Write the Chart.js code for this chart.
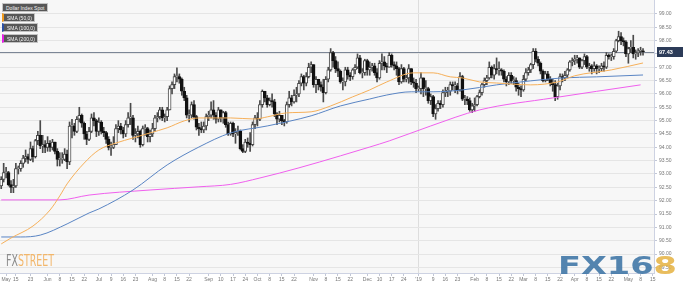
<!DOCTYPE html>
<html>
<head>
<meta charset="utf-8">
<title>Dollar Index Spot</title>
<script src="https://cdn.jsdelivr.net/npm/chart.js@4.4.1/dist/chart.umd.min.js"></script>
<style>
  body { margin: 0; background: #fff; }
  #wrap { position: relative; width: 683px; height: 285px; overflow: hidden; font-family: "Liberation Sans", Arial, sans-serif; }
  #chart { position: absolute; left: 0; top: 0; }
  .tag { position: absolute; left: 2px; height: 9px; line-height: 8px; background: #575757; color: #f2f2f2;
         font-size: 5px; padding: 0 3px; box-sizing: border-box; border: 1px solid #c4c4c4; white-space: nowrap; }
  .fxs { position: absolute; left: 6px; top: 254px; font-family: "Liberation Sans Narrow", "DejaVu Sans Condensed", sans-serif;
         font-size: 15px; line-height: 15px; transform: scaleX(0.7); transform-origin: left top; white-space: nowrap; }
  .fx168 { position: absolute; left: 558px; top: 254px; font-family: "DejaVu Sans", sans-serif; font-weight: bold;
           font-size: 24px; line-height: 24px; transform: scaleX(1.4); transform-origin: left top; opacity: 0.88; white-space: nowrap; }
</style>
</head>
<body>
<div id="wrap">
  <canvas id="chart" width="683" height="285"></canvas>
  <div class="tag" style="top:3px;width:46px">Dollar Index Spot</div>
  <div class="tag" style="top:13px;width:33px;border-left:2px solid #f39c1e">SMA (50,0)</div>
  <div class="tag" style="top:23px;width:36px;border-left:2px solid #2b4fa3">SMA (100,0)</div>
  <div class="tag" style="top:34px;width:36px;border-left:2px solid #e81ee8">SMA (200,0)</div>
  <div class="fxs"><span style="color:#8a8a8a">FX</span><span style="color:#f2b66a">STREET</span></div>
  <div class="fx168"><span style="color:#3d75a6">FX16</span><span style="color:#e6b447">8</span></div>
</div>
<script>
// daily candles, Mon 2018-05-07 .. Thu 2019-05-09 (one row per week)
const opens = [
  92.55, 92.80, 93.05, 93.05, 92.60,  92.50, 92.55, 93.20, 93.20, 93.40,
  93.60, 93.65, 93.55, 93.95, 93.65,  94.25, 94.45, 94.05, 94.10, 94.00,
  94.15, 94.00, 94.20, 93.85, 93.55,  93.55, 93.55, 93.75, 93.45, 94.80,
  94.80, 94.60, 95.05, 95.20, 94.90,  94.50, 94.30, 94.60, 95.10, 95.00,
  94.60, 94.95, 94.60, 94.55, 94.30,  94.00, 94.00, 94.10, 94.70, 94.80,
  94.65, 94.50, 94.85, 95.10, 95.10,  94.45, 94.50, 94.60, 94.10, 94.70,
  94.70, 94.40, 94.50, 94.70, 95.10,  95.15, 95.40, 95.10, 95.15, 95.40,
  96.20, 96.35, 96.65, 96.65, 96.55,  96.10, 95.85, 95.20, 95.20, 95.60,
  95.15, 94.75, 94.70, 94.65, 94.80,  95.15, 95.20, 95.40, 95.20, 95.05,
  95.40, 95.10, 95.30, 94.85, 94.50,  94.90, 94.50, 94.55, 94.60, 93.95,
  93.85, 94.20, 94.15, 94.10, 94.85,  95.10, 95.05, 95.60, 96.10, 95.85,
  95.60, 95.75, 95.70, 95.25, 95.05,  95.20, 95.00, 94.95, 95.60, 95.85,
  95.70, 95.95, 96.00, 96.40, 96.65,  96.40, 96.65, 97.00, 97.10, 96.35,
  96.55, 96.35, 96.25, 96.05, 96.55,  96.90, 97.55, 97.25, 96.95, 96.85,
  96.45, 96.45, 96.90, 96.70, 96.65,  96.90, 97.00, 97.35, 96.80, 96.80,
  97.25, 96.90, 97.00, 97.05, 96.80,  96.60, 97.15, 97.20, 97.05, 97.00,
  97.45, 97.10, 97.05, 96.95, 96.45,  96.95, 96.55, 96.60, 96.95, 96.45,
  96.40, 96.20, 96.20, 96.60, 96.20,  96.20, 95.75, 95.90, 95.25, 95.45,
  95.65, 95.60, 96.05, 96.10, 96.10,  96.35, 96.30, 96.30, 96.15, 96.65,
  95.80, 95.80, 95.75, 95.40, 95.55,  95.60, 95.90, 96.05, 96.35, 96.50,
  96.60, 97.00, 96.70, 96.95, 96.90,  96.90, 96.85, 96.55, 96.45, 96.70,
  96.50, 96.50, 96.25, 96.20, 96.15,  96.55, 96.80, 96.90, 97.10, 97.60,
  97.30, 97.15, 96.85, 96.50, 96.75,  96.55, 96.40, 96.35, 95.90, 96.30,
  96.65, 96.60, 96.70, 96.90, 97.20,  97.25, 97.30, 97.35, 97.00, 97.25,
  97.40, 97.00, 97.05, 96.95, 97.05,  96.95, 96.95, 97.05, 97.00, 97.45,
  97.40, 97.40, 97.60, 98.00, 98.15,  98.00, 97.95, 97.50, 97.70, 97.75,
  97.50, 97.55, 97.60, 97.60
];
const highs = [
  92.90, 93.40, 93.25, 93.10, 92.75,  92.80, 93.40, 93.30, 93.50, 93.70,
  93.90, 93.75, 94.20, 94.05, 94.30,  94.60, 95.00, 94.45, 94.25, 94.40,
  94.25, 94.30, 94.20, 93.95, 93.80,  93.80, 93.95, 93.90, 94.95, 95.05,
  94.90, 95.15, 95.50, 95.25, 94.95,  94.60, 94.75, 95.25, 95.30, 95.05,
  95.10, 95.00, 94.75, 94.60, 94.40,  94.20, 94.40, 94.85, 95.00, 94.90,
  94.75, 95.00, 95.30, 95.65, 95.20,  94.70, 94.80, 94.65, 94.80, 94.85,
  94.75, 94.65, 94.90, 95.20, 95.30,  95.50, 95.50, 95.25, 95.50, 96.30,
  96.45, 96.75, 96.98, 96.75, 96.60,  96.25, 95.95, 95.40, 95.70, 95.75,
  95.20, 94.90, 94.95, 94.95, 95.25,  95.35, 95.70, 95.75, 95.30, 95.50,
  95.40, 95.35, 95.35, 94.95, 94.95,  94.95, 94.70, 94.80, 94.65, 94.10,
  94.30, 94.35, 94.55, 94.95, 95.20,  95.30, 95.75, 96.15, 96.10, 95.95,
  95.85, 96.00, 95.80, 95.30, 95.35,  95.20, 95.05, 95.70, 96.10, 95.95,
  96.15, 96.25, 96.50, 96.75, 96.70,  96.80, 97.15, 97.20, 97.10, 96.65,
  96.55, 96.45, 96.55, 96.65, 97.00,  97.70, 97.60, 97.40, 97.20, 96.90,
  96.60, 97.00, 97.00, 96.80, 96.95,  97.10, 97.50, 97.45, 96.95, 97.30,
  97.30, 97.20, 97.15, 97.15, 96.95,  97.25, 97.50, 97.40, 97.15, 97.55,
  97.50, 97.20, 97.20, 97.00, 97.10,  97.00, 96.70, 97.10, 96.95, 96.60,
  96.55, 96.30, 96.80, 96.60, 96.50,  96.25, 96.00, 95.95, 95.60, 95.75,
  95.75, 96.15, 96.25, 96.25, 96.45,  96.45, 96.45, 96.40, 96.80, 96.70,
  95.95, 95.90, 95.85, 95.65, 95.85,  95.95, 96.15, 96.40, 96.60, 96.70,
  97.20, 97.05, 97.10, 97.35, 97.20,  96.95, 96.90, 96.65, 96.80, 96.80,
  96.65, 96.60, 96.40, 96.30, 96.70,  96.95, 97.00, 97.15, 97.70, 97.70,
  97.40, 97.20, 96.90, 96.85, 96.85,  96.65, 96.55, 96.50, 96.40, 96.75,
  96.75, 96.85, 96.95, 97.25, 97.35,  97.45, 97.45, 97.35, 97.30, 97.50,
  97.45, 97.15, 97.10, 97.20, 97.10,  97.05, 97.15, 97.20, 97.55, 97.50,
  97.50, 97.70, 98.05, 98.35, 98.30,  98.10, 98.00, 97.75, 98.00, 98.20,
  97.65, 97.70, 97.75, 97.70
];
const lows = [
  92.45, 92.70, 92.85, 92.55, 92.30,  92.30, 92.50, 93.00, 93.10, 93.25,
  93.45, 93.40, 93.50, 93.45, 93.60,  94.10, 93.95, 93.80, 93.80, 93.85,
  93.85, 93.90, 93.75, 93.30, 93.30,  93.40, 93.50, 93.20, 93.35, 94.35,
  94.45, 94.55, 94.95, 94.75, 94.30,  94.10, 94.25, 94.55, 94.80, 94.40,
  94.45, 94.50, 94.40, 94.15, 93.90,  93.70, 93.95, 94.10, 94.55, 94.50,
  94.35, 94.40, 94.75, 94.85, 94.30,  94.20, 94.35, 94.00, 94.05, 94.45,
  94.20, 94.20, 94.40, 94.60, 94.95,  95.05, 95.00, 94.95, 95.00, 95.40,
  96.00, 96.20, 96.45, 96.40, 95.95,  95.75, 95.10, 94.95, 95.10, 95.05,
  94.65, 94.45, 94.55, 94.55, 94.65,  95.00, 95.10, 95.05, 94.90, 94.95,
  94.95, 94.90, 94.75, 94.45, 94.45,  94.40, 94.15, 94.45, 93.90, 93.80,
  93.80, 94.00, 93.85, 94.05, 94.70,  94.80, 95.00, 95.50, 95.70, 95.50,
  95.55, 95.50, 95.15, 94.85, 94.95,  94.85, 94.80, 94.90, 95.50, 95.55,
  95.65, 95.70, 95.90, 96.30, 96.15,  96.30, 96.60, 96.80, 96.25, 96.05,
  96.15, 96.10, 95.70, 96.00, 96.45,  96.85, 97.00, 96.80, 96.65, 96.40,
  96.15, 96.30, 96.55, 96.50, 96.55,  96.75, 96.95, 96.75, 96.60, 96.70,
  96.70, 96.70, 96.85, 96.70, 96.45,  96.55, 96.90, 96.90, 96.80, 97.00,
  97.00, 96.90, 96.70, 96.35, 96.40,  96.45, 96.45, 96.40, 96.35, 96.25,
  96.05, 96.10, 96.00, 95.90, 95.95,  95.65, 95.60, 95.15, 95.05, 95.35,
  95.45, 95.50, 95.90, 95.90, 95.95,  96.15, 96.05, 96.00, 96.10, 95.75,
  95.60, 95.60, 95.35, 95.30, 95.35,  95.55, 95.85, 95.95, 96.25, 96.35,
  96.55, 96.60, 96.55, 96.75, 96.70,  96.70, 96.45, 96.30, 96.35, 96.40,
  96.35, 96.10, 95.95, 95.90, 96.10,  96.50, 96.70, 96.80, 96.95, 97.20,
  97.05, 96.75, 96.45, 96.45, 96.50,  96.30, 96.10, 95.75, 95.80, 96.15,
  96.45, 96.50, 96.60, 96.85, 97.05,  97.10, 97.15, 96.95, 96.95, 97.10,
  96.95, 96.85, 96.75, 96.85, 96.75,  96.80, 96.85, 96.85, 96.95, 97.30,
  97.25, 97.30, 97.55, 97.95, 97.85,  97.80, 97.40, 97.15, 97.55, 97.35,
  97.30, 97.40, 97.45, 97.45
];
const closes = [
  92.80, 93.05, 93.05, 92.60, 92.50,  92.55, 93.20, 93.20, 93.40, 93.60,
  93.65, 93.55, 93.95, 93.65, 94.25,  94.45, 94.05, 94.10, 94.00, 94.15,
  94.00, 94.20, 93.85, 93.55, 93.55,  93.55, 93.75, 93.45, 94.80, 94.80,
  94.60, 95.05, 95.20, 94.90, 94.50,  94.30, 94.60, 95.10, 95.00, 94.60,
  94.95, 94.60, 94.55, 94.30, 94.00,  94.00, 94.10, 94.70, 94.80, 94.65,
  94.50, 94.85, 95.10, 95.10, 94.45,  94.50, 94.60, 94.10, 94.70, 94.70,
  94.40, 94.50, 94.70, 95.10, 95.15,  95.40, 95.10, 95.15, 95.40, 96.20,
  96.35, 96.65, 96.65, 96.55, 96.10,  95.85, 95.20, 95.20, 95.60, 95.15,
  94.75, 94.70, 94.65, 94.80, 95.15,  95.20, 95.40, 95.20, 95.05, 95.40,
  95.10, 95.30, 94.85, 94.50, 94.90,  94.50, 94.55, 94.60, 93.95, 93.85,
  94.20, 94.15, 94.10, 94.85, 95.10,  95.05, 95.60, 96.10, 95.85, 95.60,
  95.75, 95.70, 95.25, 95.05, 95.20,  95.00, 94.95, 95.60, 95.85, 95.70,
  95.95, 96.00, 96.40, 96.65, 96.40,  96.65, 97.00, 97.10, 96.35, 96.55,
  96.35, 96.25, 96.05, 96.55, 96.90,  97.55, 97.25, 96.95, 96.85, 96.45,
  96.45, 96.90, 96.70, 96.65, 96.90,  97.00, 97.35, 96.80, 96.80, 97.25,
  96.90, 97.00, 97.05, 96.80, 96.60,  97.15, 97.20, 97.05, 97.00, 97.45,
  97.10, 97.05, 96.95, 96.45, 96.95,  96.55, 96.60, 96.95, 96.45, 96.40,
  96.20, 96.20, 96.60, 96.20, 96.20,  95.75, 95.90, 95.25, 95.45, 95.65,
  95.60, 96.05, 96.10, 96.10, 96.35,  96.30, 96.30, 96.15, 96.65, 95.80,
  95.80, 95.75, 95.40, 95.55, 95.60,  95.90, 96.05, 96.35, 96.50, 96.60,
  97.00, 96.70, 96.95, 96.90, 96.90,  96.85, 96.55, 96.45, 96.70, 96.50,
  96.50, 96.25, 96.20, 96.15, 96.55,  96.80, 96.90, 97.10, 97.60, 97.30,
  97.15, 96.85, 96.50, 96.75, 96.55,  96.40, 96.35, 95.90, 96.30, 96.65,
  96.60, 96.70, 96.90, 97.20, 97.25,  97.30, 97.35, 97.00, 97.25, 97.40,
  97.00, 97.05, 96.95, 97.05, 96.95,  96.95, 97.05, 97.00, 97.45, 97.40,
  97.40, 97.60, 98.00, 98.15, 98.00,  97.95, 97.50, 97.70, 97.75, 97.50,
  97.55, 97.60, 97.60, 97.58
];
// quote printed in the axis tag
const quoteText = '97.43';

// moving averages at sample dates
const sma50 = [
  ['2018-05-07', 90.38], ['2018-05-11', 90.60], ['2018-05-24', 91.05], ['2018-06-04', 91.65],
  ['2018-06-08', 92.18], ['2018-06-13', 92.63], ['2018-06-22', 93.41], ['2018-07-02', 93.90],
  ['2018-07-11', 94.16], ['2018-07-20', 94.35], ['2018-07-31', 94.54], ['2018-08-09', 94.73],
  ['2018-08-20', 94.99], ['2018-08-28', 95.10], ['2018-09-14', 95.10], ['2018-09-28', 95.06],
  ['2018-10-05', 95.14], ['2018-10-17', 95.29], ['2018-10-31', 95.33], ['2018-11-12', 95.55],
  ['2018-11-23', 95.89], ['2018-12-04', 96.15], ['2018-12-13', 96.45], ['2018-12-28', 96.79],
  ['2019-01-09', 96.79], ['2019-01-18', 96.64], ['2019-01-25', 96.60], ['2019-02-05', 96.45],
  ['2019-02-14', 96.41], ['2019-03-06', 96.34], ['2019-03-21', 96.45], ['2019-04-01', 96.68],
  ['2019-04-22', 96.90], ['2019-05-09', 97.16]
];
const sma100 = [
  ['2018-05-07', 90.64], ['2018-05-17', 90.64], ['2018-05-29', 90.71], ['2018-06-13', 91.13],
  ['2018-06-26', 91.54], ['2018-07-02', 91.69], ['2018-07-20', 92.40], ['2018-08-09', 93.34],
  ['2018-08-28', 94.01], ['2018-09-14', 94.54], ['2018-10-05', 94.80], ['2018-10-31', 95.18],
  ['2018-11-16', 95.55], ['2018-12-04', 95.81], ['2018-12-13', 95.96], ['2018-12-27', 96.08],
  ['2019-01-09', 96.08], ['2019-01-25', 96.15], ['2019-02-14', 96.34], ['2019-03-06', 96.49],
  ['2019-03-25', 96.60], ['2019-04-12', 96.64], ['2019-05-09', 96.71]
];
const sma200 = [
  ['2018-05-07', 92.03], ['2018-06-08', 92.03], ['2018-06-26', 92.21], ['2018-07-31', 92.40],
  ['2018-08-28', 92.52], ['2018-09-14', 92.61], ['2018-10-02', 92.85], ['2018-10-24', 93.23],
  ['2018-11-16', 93.68], ['2018-12-04', 94.01], ['2018-12-14', 94.24], ['2019-01-08', 94.80],
  ['2019-02-05', 95.40], ['2019-03-19', 95.85], ['2019-05-08', 96.34]
];

const yTicks = [89.5, 90, 90.5, 91, 91.5, 92, 92.5, 93, 93.5, 94, 94.5, 95, 95.5, 96, 96.5, 97, 97.5, 98, 98.5, 99];
const xTicks = [
  ['2018-05-09', 'May'], ['2018-05-15', '15'], ['2018-05-23', '23'], ['2018-06-01', 'Jun'], ['2018-06-08', '8'],
  ['2018-06-15', '15'], ['2018-06-22', '22'], ['2018-07-02', 'Jul'], ['2018-07-09', '9'], ['2018-07-16', '16'],
  ['2018-07-23', '23'], ['2018-08-01', 'Aug'], ['2018-08-08', '8'], ['2018-08-15', '15'], ['2018-08-22', '22'],
  ['2018-09-03', 'Sep'], ['2018-09-10', '10'], ['2018-09-17', '17'], ['2018-09-24', '24'], ['2018-10-01', 'Oct'],
  ['2018-10-08', '8'], ['2018-10-15', '15'], ['2018-10-22', '22'], ['2018-11-01', 'Nov'], ['2018-11-08', '8'],
  ['2018-11-15', '15'], ['2018-11-22', '22'], ['2018-12-03', 'Dec'], ['2018-12-10', '10'], ['2018-12-17', '17'],
  ['2018-12-24', '24'], ['2019-01-01', "'19"], ['2019-01-09', '9'], ['2019-01-16', '16'], ['2019-01-23', '23'],
  ['2019-02-01', 'Feb'], ['2019-02-08', '8'], ['2019-02-15', '15'], ['2019-02-22', '22'], ['2019-03-01', 'Mar'],
  ['2019-03-08', '8'], ['2019-03-15', '15'], ['2019-03-22', '22'], ['2019-04-01', 'Apr'], ['2019-04-08', '8'],
  ['2019-04-15', '15'], ['2019-04-22', '22'], ['2019-05-01', 'May'], ['2019-05-08', '8'], ['2019-05-15', '15']
];

// weekday categories; the axis runs a few days past the last candle
const labels = [];
for (let d = new Date(Date.UTC(2018, 4, 7)); labels.length < 268; d.setUTCDate(d.getUTCDate() + 1)) {
  const wd = d.getUTCDay();
  if (wd === 0 || wd === 6) continue;
  labels.push(d.toISOString().slice(0, 10));
}

const tickMap = Object.fromEntries(xTicks);
const lastClose = closes[closes.length - 1];
const up = closes.map((c, i) => c >= opens[i]);
const toPoints = arr => arr.map(([x, y]) => ({ x, y }));
const fontFamily = '"Liberation Sans", Arial, sans-serif';

const plotBg = {
  id: 'plotBg',
  beforeDraw(chart) {
    const { ctx, chartArea: a } = chart;
    ctx.save();
    ctx.fillStyle = '#f7f7f7';
    ctx.fillRect(a.left, a.top, a.right - a.left, a.bottom - a.top);
    ctx.restore();
  }
};

// horizontal line at the last close, with the quote tag on the axis
const lastPriceLine = {
  id: 'lastPriceLine',
  beforeDatasetsDraw(chart) {
    const { ctx, chartArea: a, scales: { y } } = chart;
    const py = Math.round(y.getPixelForValue(lastClose)) + 0.5;
    ctx.save();
    ctx.strokeStyle = '#7c8696';
    ctx.lineWidth = 1;
    ctx.beginPath();
    ctx.moveTo(a.left, py);
    ctx.lineTo(a.right, py);
    ctx.stroke();
    ctx.restore();
  },
  afterDraw(chart) {
    const { ctx, chartArea: a, scales: { y } } = chart;
    const py = Math.round(y.getPixelForValue(lastClose));
    ctx.save();
    ctx.fillStyle = '#2c3b58';
    ctx.fillRect(a.right + 3, py - 5, 26, 10);
    ctx.fillStyle = '#ffffff';
    ctx.font = 'bold 5.5px ' + fontFamily;
    ctx.textBaseline = 'middle';
    ctx.fillText(quoteText, a.right + 5, py + 0.5);
    ctx.restore();
  }
};

new Chart(document.getElementById('chart'), {
  data: {
    labels: labels,
    datasets: [
      {
        type: 'line', label: 'SMA (50,0)', data: toPoints(sma50),
        borderColor: '#f6b05a', borderWidth: 1, pointRadius: 0, cubicInterpolationMode: 'monotone'
      },
      {
        type: 'line', label: 'SMA (100,0)', data: toPoints(sma100),
        borderColor: '#5a85c4', borderWidth: 1, pointRadius: 0, cubicInterpolationMode: 'monotone'
      },
      {
        type: 'line', label: 'SMA (200,0)', data: toPoints(sma200),
        borderColor: '#f060ee', borderWidth: 1, pointRadius: 0, cubicInterpolationMode: 'monotone'
      },
      {
        type: 'bar', label: 'Dollar Index Spot',
        data: closes.map((c, i) => [opens[i], c]),
        backgroundColor: up.map(u => u ? '#ffffff' : '#111111'),
        borderColor: up.map(u => u ? '#4a4a4a' : '#111111'),
        borderWidth: 1, borderSkipped: false, barThickness: 3, minBarLength: 1, grouped: false
      },
      {
        type: 'bar', label: 'range',
        data: closes.map((c, i) => [lows[i], highs[i]]),
        backgroundColor: '#4a4a4a', barThickness: 1, grouped: false
      }
    ]
  },
  options: {
    responsive: false,
    animation: false,
    layout: { padding: 0 },
    plugins: { legend: { display: false }, tooltip: { enabled: false } },
    scales: {
      x: {
        type: 'category',
        offset: true,
        border: { color: '#cdd2e2' },
        grid: {
          offset: false,
          tickLength: 3,
          tickColor: '#c2c7d6',
          color: c => (c.tick && c.tick.label === "'19") ? '#dddddd' : 'rgba(0,0,0,0)'
        },
        ticks: {
          autoSkip: false, maxRotation: 0, padding: 1, color: '#777777',
          font: { size: 5, family: fontFamily },
          callback(v) { return tickMap[this.getLabelForValue(v)] || ''; }
        },
        afterBuildTicks(s) { s.ticks = s.ticks.filter(t => tickMap[labels[t.value]] !== undefined); },
        afterFit(s) { s.height = 12; s.paddingLeft = 0; s.paddingRight = 0; }
      },
      y: {
        position: 'right',
        min: 89.29,
        max: 99.52,
        border: { color: '#cdd2e2' },
        grid: { color: '#e5e5e5', tickLength: 3, tickColor: '#c2c7d6' },
        ticks: {
          padding: 2, color: '#777777',
          font: { size: 5, family: fontFamily },
          callback: v => Number(v).toFixed(2)
        },
        afterBuildTicks(s) { s.ticks = yTicks.map(v => ({ value: v })); },
        afterFit(s) { s.width = 29; s.paddingTop = 0; s.paddingBottom = 0; }
      }
    }
  },
  plugins: [plotBg, lastPriceLine]
});
</script>
</body>
</html>
